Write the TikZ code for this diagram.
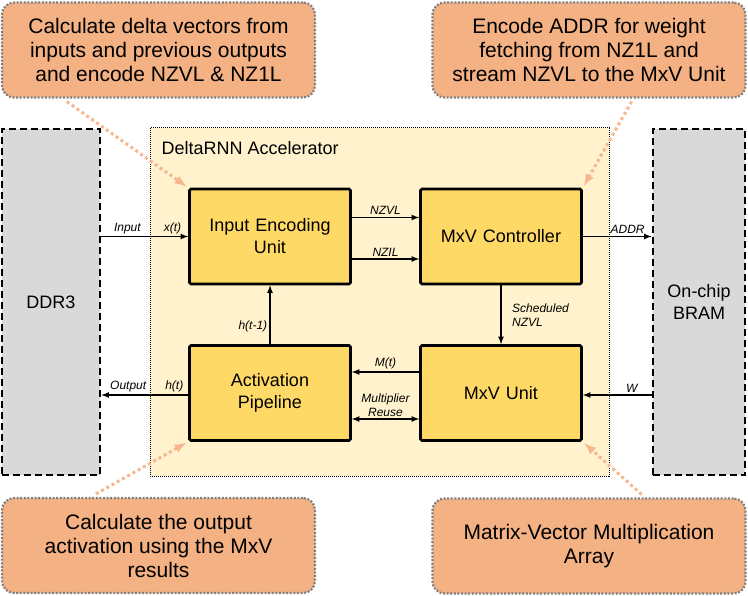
\documentclass[tikz,border=0pt]{standalone}
\usepackage{fontspec}
\setmainfont{Liberation Sans}
\usetikzlibrary{arrows,shapes,positioning}

\definecolor{notefill}{RGB}{244,177,131}
\definecolor{noteline}{RGB}{128,128,128}
\definecolor{blockfill}{RGB}{255,217,102}
\definecolor{accfill}{RGB}{255,242,204}
\definecolor{memfill}{RGB}{217,217,217}
\definecolor{pointcol}{RGB}{248,182,142}

\begin{document}
\begin{tikzpicture}[x=1pt, y=-1pt, >=latex,
    block/.style={rectangle, draw, line width=2.6pt, rounded corners=1.5pt, fill=blockfill,
        minimum width=161pt, minimum height=95pt, text width=150pt, align=center,
        font=\fontsize{18}{22}\selectfont},
    memory/.style={rectangle, draw, line width=2.6pt, dash pattern=on 7pt off 4pt, fill=memfill,
        minimum height=346pt, align=center, font=\fontsize{18}{22}\selectfont},
    notebox/.style={rectangle, draw=noteline, line width=2.2pt, dash pattern=on 2pt off 1.6pt,
        rounded corners=12pt, fill=notefill, minimum width=313pt, minimum height=95pt,
        align=center, font=\fontsize{21}{24}\selectfont},
    sig/.style={font=\fontsize{12}{14}\selectfont\itshape, inner sep=2pt},
    wire/.style={line width=1.6pt},
    pointer/.style={draw=pointcol, line width=3pt, dash pattern=on 3pt off 3pt, -latex, shorten >=2pt}]
    \useasboundingbox (0,0) rectangle (748,596);

    % Accelerator
    \node[rectangle, draw, line width=1pt, dash pattern=on 1pt off 1pt, fill=accfill,
        minimum width=459pt, minimum height=348pt] (acc) at (379.5,302) {};
    \node[anchor=west, font=\fontsize{18}{22}\selectfont] (acclabel) at (158,148) {DeltaRNN Accelerator};

    % Memories
    \node[memory, minimum width=98pt] (ddr) at (51,302) {DDR3};
    \node[memory, minimum width=92pt] (bram) at (699,302) {On-chip\\BRAM};

    % Blocks
    \node[block] (ieu) at (270,236.5) {Input Encoding\\Unit};
    \node[block] (ctrl) at (501,236.5) {MxV Controller};
    \node[block] (act) at (270,393) {Activation\\Pipeline};
    \node[block] (unit) at (501,393) {MxV Unit};

    % Arrows
    \draw[wire, ->] (ddr.east |- ieu) -- node[sig, above, pos=0.3] {Input} node[sig, above, pos=0.82] {x(t)} (ieu.west);
    \draw[wire, ->] ([yshift=19pt]ieu.east) -- node[sig, above] {NZVL} ([yshift=19pt]ctrl.west);
    \draw[wire, ->] ([yshift=-22.5pt]ieu.east) -- node[sig, above] {NZIL} ([yshift=-22.5pt]ctrl.west);
    \draw[wire, ->] (ctrl.east) -- node[sig, above, pos=0.65] {ADDR} (ctrl.east -| bram.west);
    \draw[wire, ->] (ctrl.south) -- (unit.north);
    \node[sig, anchor=west, align=left] (sched) at (510,315) {Scheduled\\NZVL};
    \draw[wire, ->] ([yshift=21pt]unit.west) -- node[sig, above] {M(t)} ([yshift=21pt]act.east);
    \draw[wire, <->] ([yshift=-26pt]act.east) -- node[sig, above, align=center] {Multiplier\\Reuse} ([yshift=-26pt]unit.west);
    \draw[wire, ->] ([yshift=-2pt]unit.east -| bram.west) -- node[sig, above, pos=0.29] {W} ([yshift=-2pt]unit.east);
    \draw[wire, ->] ([yshift=-2pt]act.west) -- node[sig, above, pos=0.16] {h(t)} node[sig, above, pos=0.69] {Output} ([yshift=-2pt]act.west -| ddr.east);
    \draw[wire, ->] (act.north) -- node[sig, left, pos=0.3] {h(t-1)} (ieu.south);

    % Notes
    \node[notebox] (noteenc) at (158.5,50) {Calculate delta vectors from\\inputs and previous outputs\\and encode NZVL \& NZ1L};
    \node[notebox] (notectrl) at (589,50) {Encode ADDR for weight\\fetching from NZ1L and\\stream NZVL to the MxV Unit};
    \node[notebox] (noteact) at (158.5,545.5) {Calculate the output\\activation using the MxV\\results};
    \node[notebox] (noteunit) at (589,546) {Matrix-Vector Multiplication\\Array};

    \draw[pointer] ([xshift=66pt, yshift=-3pt]noteenc.south west) -- (ieu.north west);
    \draw[pointer] ([xshift=-115pt, yshift=-3pt]notectrl.south east) -- (ctrl.north east);
    \draw[pointer] ([xshift=95pt, yshift=3pt]noteact.north west) -- (act.south west);
    \draw[pointer] ([xshift=-105pt, yshift=3pt]noteunit.north east) -- (unit.south east);
\end{tikzpicture}
\end{document}
